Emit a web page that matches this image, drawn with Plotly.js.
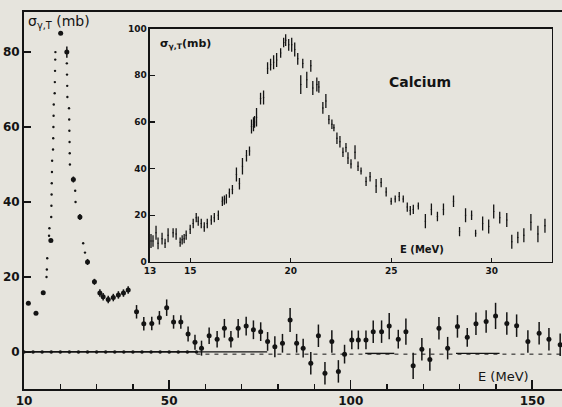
<!DOCTYPE html>
<html><head><meta charset="utf-8">
<script src="https://cdn.plot.ly/plotly-3.0.1.min.js"></script>
<style>html,body{margin:0;padding:0;background:#e6e4dd}</style>
</head><body><div id="chart" style="width:562px;height:407px"></div>
<script>
// ---- main plot: photoabsorption cross section (mb) vs E (MeV)
const mainE = [11.2,13.3,15.3,17.4,20.1,21.8,23.6,25.4,27.5,29.4,30.9,31.8,33.2,34.6,36.0,37.4,38.7,
  41.0,43.0,45.2,47.3,49.3,51.2,53.2,55.2,57.1,58.9,61.0,63.2,65.2,67.0,69.0,71.2,73.2,75.2,77.1,79.1,81.2,83.3,85.1,86.9,
  89.0,91.1,92.9,94.8,96.6,98.3,100.3,102.1,104.2,106.2,108.5,110.6,113.1,115.2,117.2,119.6,121.8,124.3,126.7,129.4,
  132.1,134.5,137.3,139.9,143.0,145.7,148.8,151.9,154.6,157.7];
const mainS = [13,10.3,15.8,29.7,85,80,46,36,24,18.7,15.7,14.7,14.0,14.5,15.2,15.7,16.5,
  10.7,7.5,7.6,9.1,11.8,8,8,4.8,2.6,1.0,4.3,3.4,6.3,3.4,6.3,6.9,5.9,5.4,2.8,1.4,2.3,8.5,2.3,1.0,
  -3,4.3,-5.7,2.8,-5.2,-0.6,3.2,3.2,3.2,5.4,5.4,6.9,3.4,5.4,-3.7,0.7,-2,6.3,1,6.8,
  3.9,7.5,8.1,9.6,7.6,7,2.8,5,3.4,1.9];
const mainErr = [0,0,0,0,0,1.5,0.8,0.8,0.8,0.8,1,1,1,1,1,1,1,
  1.8,1.8,1.8,1.8,2.2,1.8,1.8,2,2,2,2.2,2.2,2.5,2.2,2.5,2.5,2.5,2.5,2.5,2.8,2.5,3.2,2.5,2.5,
  3,3,3,3,3,2.5,2.5,2.5,2.5,3,3,3.5,2.5,3.5,3.5,3,3,3,3,3,
  2.5,3,3,3.5,3,3,3,3,3,3];
// dense (tiny dot) points in the resonance region
const denseE = [16.2,16.3,16.4,16.9,17.0,17.5,17.55,17.6,17.65,17.7,17.75,18.0,18.05,18.1,18.15,18.2,18.45,18.5,18.55,18.6,18.65,
  21.8,21.85,21.9,21.95,22.4,22.45,22.5,22.55,22.6,22.65,24.1,24.2,26.3,26.8];
const denseS = [20,22,25,31,33,36,39,42,45,48,51,54,57,60,63,66,69,72,75,78,80,
  77,74,71,68,65,62,59,56,53,50,43,40,29,26.5];
// zero reference line (10–57 MeV) and baseline segments beyond
const zeroE = [10,12.5,15,17.5,20,22.5,25,27.5,30,32.5,35,37.5,40,42.5,45,47.5,50,52.5,55,57.5];
const zeroS = [0,0,0,0,0,0,0,0,0,0,0,0,0,0,0,0,0,0,0,0];
const baseE = [57.5,77,null,104,112,null,129,141];
const baseS = [0,0,null,-0.4,-0.4,null,-0.4,-0.4];
const dashE = [57.5,158.5];
const dashS = [-0.6,-0.6];

// ---- inset: Calcium
const caE = [13.05,13.15,13.3,13.4,13.6,13.75,13.9,14.15,14.3,14.5,14.6,14.7,14.8,15.0,15.15,15.3,15.4,15.55,15.7,15.85,
  16.05,16.2,16.4,16.6,16.7,16.8,16.95,17.1,17.3,17.45,17.6,17.8,17.95,18.05,18.15,18.2,18.3,18.5,18.65,18.85,
  19.0,19.15,19.3,19.5,19.65,19.75,19.9,20.05,20.2,20.35,20.5,20.6,20.8,21.0,21.1,21.3,21.4,21.6,21.75,21.9,
  22.05,22.15,22.3,22.45,22.6,22.75,22.85,23.0,23.2,23.35,23.5,23.75,23.95,24.25,24.5,24.75,25.0,25.2,25.4,25.6,
  25.8,25.95,26.1,26.35,26.7,27.0,27.3,27.6,28.1,28.4,28.7,29.0,29.2,29.55,29.85,30.1,30.4,30.75,31.0,31.3,
  31.6,31.95,32.3,32.65];
const caS = [9,9,12.5,8,10,8,11.5,12.5,12,8.5,9.5,10,11.5,14,16.5,19,17.5,16.5,15,16.5,
  18,19,20,26,26.5,27,29.5,31,37.5,33.5,41,45.5,47.5,58,59,60,62,70,70.5,83,
  84.5,85.5,86.5,89.5,94,95,93,93,91,87,76,85,78,84,74.5,76,75,66,69,61,
  59,57.5,53,51.5,47,49,44.5,42,47,41,39,34.5,36.5,32.5,34,30,26,27,28,27,
  23.5,22,22.5,24,17.5,22.5,19.5,22.5,26,13,20,20,12.3,16.5,15.2,21.6,19,18,8.7,10.5,
  11.5,17,12,15.5];
const caErr = [3,2.5,3,2.5,2.5,2,3,2,2.5,2,2,2,2,2,2,2,2,2,2,2,
  2,2,2,2,2,2,2,2,3,2.5,3.5,2.5,2,3,3,2.5,4,2.5,3,2.5,
  2.5,3,3,2,2,2.5,2.5,3,3,2.5,4,2,3.5,2.5,3,3,2.5,2.5,3,2,
  2,1.5,2.5,2.5,2,2,2.5,2,3,2,1.5,2,2,3,2,2,1.5,1.5,2,1.5,
  2,2,2,1.5,3,2.5,2,2.5,2.5,2,3,2,1.5,3,3,3,2.5,3,3,2.5,
  3,3.5,3.5,3];

const ink = '#141414';
const bg = '#e6e4dd';
const ff = 'DejaVu Sans, Arial, sans-serif';

const traces = [
  {x: zeroE, y: zeroS, mode: 'lines+markers', line: {color: ink, width: 1.6},
   marker: {color: ink, size: 3.5}, hoverinfo: 'skip'},
  {x: baseE, y: baseS, mode: 'lines', line: {color: ink, width: 1.4}, connectgaps: false, hoverinfo: 'skip'},
  {x: dashE, y: dashS, mode: 'lines', line: {color: ink, width: 1, dash: '4px,5px'}, hoverinfo: 'skip'},
  {x: denseE, y: denseS, mode: 'markers', marker: {color: ink, size: 2.4}},
  {x: mainE, y: mainS, mode: 'markers', marker: {color: ink, size: 5},
   error_y: {type: 'data', array: mainErr, visible: true, color: ink, thickness: 1.5, width: 0}},
  {x: caE, y: caS, xaxis: 'x2', yaxis: 'y2', mode: 'markers', marker: {color: ink, size: 1.5},
   error_y: {type: 'data', array: caErr, visible: true, color: ink, thickness: 1.3, width: 0}}
];

const layout = {
  width: 562, height: 407,
  margin: {l: 24, r: 0, t: 12, b: 18},
  paper_bgcolor: bg, plot_bgcolor: bg,
  showlegend: false,
  font: {family: ff, color: ink},
  xaxis: {range: [10, 158.2], showline: true, linewidth: 2, linecolor: ink, mirror: true,
    showgrid: false, zeroline: false, ticks: 'inside', ticklen: 9, tickwidth: 1.5, tickcolor: ink,
    tickvals: [10, 50, 100, 150], ticktext: ['10', '50', '100', '150'],
    minor: {tickvals: [20,30,40,60,70,80,90,110,120,130,140], ticks: 'inside', ticklen: 5, tickwidth: 1.3, tickcolor: ink},
    tickfont: {family: ff, size: 12, color: ink, weight: 'bold'}},
  yaxis: {range: [-9.9, 90.7], showline: true, linewidth: 2, linecolor: ink, mirror: false,
    showgrid: false, zeroline: false, ticks: 'inside', ticklen: 7, tickwidth: 1.5, tickcolor: ink,
    tickvals: [0, 20, 40, 60, 80], ticktext: ['0', '20', '40', '60', '80'],
    tickfont: {family: ff, size: 12, color: ink, weight: 'bold'}},
  xaxis2: {anchor: 'y2', domain: [0.2342, 0.9814], range: [13, 33], showline: true, linewidth: 1.5,
    linecolor: ink, mirror: true, showgrid: false, zeroline: false, ticks: 'inside', ticklen: 4,
    tickwidth: 1.2, tickcolor: ink, tickvals: [13, 15, 20, 25, 30], ticktext: ['13', '15', '20', '25', '30'],
    tickfont: {family: ff, size: 9, color: ink, weight: 'bold'}},
  yaxis2: {anchor: 'x2', domain: [0.3369, 0.9562], range: [0, 100], showline: true, linewidth: 1.5,
    linecolor: ink, mirror: true, showgrid: false, zeroline: false, ticks: 'inside', ticklen: 5,
    tickwidth: 1.2, tickcolor: ink, tickvals: [0, 20, 40, 60, 80, 100],
    ticktext: ['0', '20', '40', '60', '80', '100'],
    tickfont: {family: ff, size: 9, color: ink, weight: 'bold'}},
  annotations: [
    {xref: 'x', yref: 'y', x: 10.6, y: 88, xanchor: 'left', yanchor: 'middle', showarrow: false,
     text: 'σ<sub>γ,T</sub> (mb)', font: {family: ff, size: 14, color: ink}},
    {xref: 'x', yref: 'y', x: 142, y: -6.6, xanchor: 'center', yanchor: 'middle', showarrow: false,
     text: 'E (MeV)', font: {family: ff, size: 13, color: ink}},
    {xref: 'x2', yref: 'y2', x: 13.4, y: 93.5, xanchor: 'left', yanchor: 'middle', showarrow: false,
     text: 'σ<sub>γ,T</sub>(mb)', font: {family: ff, size: 11, color: ink, weight: 'bold'}},
    {xref: 'x2', yref: 'y2', x: 26.45, y: 77, xanchor: 'center', yanchor: 'middle', showarrow: false,
     text: 'Calcium', font: {family: ff, size: 14, color: ink, weight: 'bold'}},
    {xref: 'x2', yref: 'y2', x: 26.55, y: 5.3, xanchor: 'center', yanchor: 'middle', showarrow: false,
     text: 'E (MeV)', font: {family: ff, size: 10, color: ink, weight: 'bold'}}
  ]
};

Plotly.newPlot('chart', traces, layout, {staticPlot: true, displayModeBar: false});
</script></body></html>
